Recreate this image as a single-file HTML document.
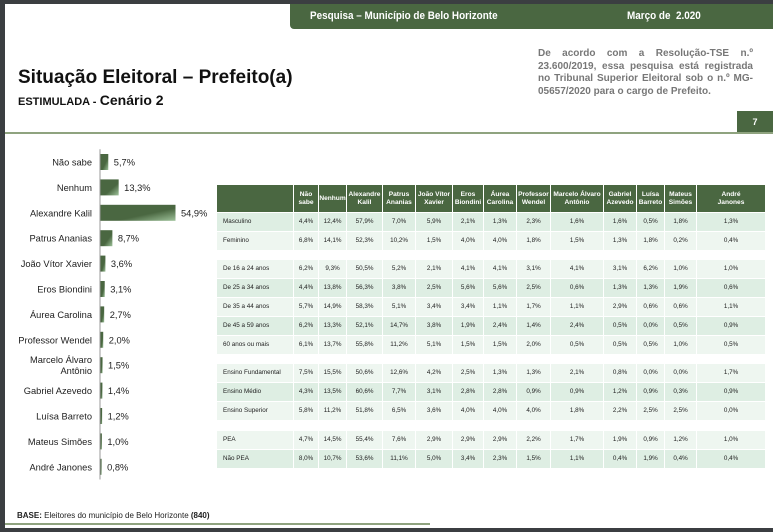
<!DOCTYPE html>
<html><head><meta charset="utf-8"><style>
body{margin:0;width:773px;height:532px;overflow:hidden;background:#3b3e41;font-family:"Liberation Sans",sans-serif;}
#page{position:absolute;left:5px;top:4px;width:768px;height:524px;background:#fff;}
.abs{position:absolute;}
#table{position:absolute;font-size:6.3px;color:#222;}
.cell{position:absolute;display:flex;align-items:center;justify-content:center;text-align:center;box-sizing:border-box;line-height:1.15;}
.hd{background:#4a6741;color:#fff;font-weight:bold;font-size:6.6px;}
</style></head><body>
<div id="page">
 <div class="abs" style="left:285px;top:0;width:483px;height:25px;background:#4a6741;border-bottom-left-radius:4px;"></div>
 <div class="abs" style="left:305px;top:6px;color:#fff;font-weight:bold;font-size:11px;transform:scaleX(0.9);transform-origin:left;">Pesquisa – Município de Belo Horizonte</div>
 <div class="abs" style="left:622px;top:6px;color:#fff;font-weight:bold;font-size:11px;transform:scaleX(0.9);transform-origin:left;">Março de &nbsp;2.020</div>
 <div class="abs" style="left:13px;top:63px;font-weight:bold;font-size:19px;color:#111;">Situação Eleitoral – Prefeito(a)</div>
 <div class="abs" style="left:13px;top:88px;font-weight:bold;font-size:12px;color:#111;"><span style="font-size:11px">ESTIMULADA -</span> <span style="font-size:14px">Cenário 2</span></div>
 <div class="abs" style="left:533px;top:44px;width:215px;font-weight:bold;font-size:10px;color:#777;text-align:justify;line-height:12.5px;">De acordo com a Resolução-TSE n.º 23.600/2019, essa pesquisa está registrada no Tribunal Superior Eleitoral sob o n.º MG-05657/2020 para o cargo de Prefeito.</div>
 <div class="abs" style="left:732px;top:107px;width:36px;height:22px;background:#4a6741;color:#fff;font-weight:bold;font-size:9px;line-height:22px;text-align:center;">7</div>
 <div class="abs" style="left:0;top:128px;width:768px;height:2px;background:#8fa37f;"></div>
 <svg id="bars" class="abs" style="left:0;top:0" width="220" height="500"></svg>
 <div id="table"></div>
 <div class="abs" style="left:12px;top:507px;font-size:8px;color:#222;"><b>BASE:</b> Eleitores do município de Belo Horizonte <b>(840)</b></div>
 <div class="abs" style="left:0;top:519px;width:425px;height:2px;background:#8fa37f;"></div>
</div>
<script>
const candidates=["Não sabe","Nenhum","Alexandre Kalil","Patrus Ananias","João Vítor Xavier","Eros Biondini","Áurea Carolina","Professor Wendel","Marcelo Álvaro Antônio","Gabriel Azevedo","Luísa Barreto","Mateus Simões","André Janones"];
const totals=[5.7,13.3,54.9,8.7,3.6,3.1,2.7,2.0,1.5,1.4,1.2,1.0,0.8];
const headers=["Não sabe","Nenhum","Alexandre Kalil","Patrus Ananias","João Vítor Xavier","Eros Biondini","Áurea Carolina","Professor Wendel","Marcelo Álvaro Antônio","Gabriel Azevedo","Luísa Barreto","Mateus Simões","André Janones"];
const rowLabels=["Masculino","Feminino",null,"De 16 a 24 anos","De 25 a 34 anos","De 35 a 44 anos","De 45 a 59 anos","60 anos ou mais",null,"Ensino Fundamental","Ensino Médio","Ensino Superior",null,"PEA","Não PEA"];
const rowValues=[
[4.4,12.4,57.9,7.0,5.9,2.1,1.3,2.3,1.6,1.6,0.5,1.8,1.3],
[6.8,14.1,52.3,10.2,1.5,4.0,4.0,1.8,1.5,1.3,1.8,0.2,0.4],
null,
[6.2,9.3,50.5,5.2,2.1,4.1,4.1,3.1,4.1,3.1,6.2,1.0,1.0],
[4.4,13.8,56.3,3.8,2.5,5.6,5.6,2.5,0.6,1.3,1.3,1.9,0.6],
[5.7,14.9,58.3,5.1,3.4,3.4,1.1,1.7,1.1,2.9,0.6,0.6,1.1],
[6.2,13.3,52.1,14.7,3.8,1.9,2.4,1.4,2.4,0.5,0.0,0.5,0.9],
[6.1,13.7,55.8,11.2,5.1,1.5,1.5,2.0,0.5,0.5,0.5,1.0,0.5],
null,
[7.5,15.5,50.6,12.6,4.2,2.5,1.3,1.3,2.1,0.8,0.0,0.0,1.7],
[4.3,13.5,60.6,7.7,3.1,2.8,2.8,0.9,0.9,1.2,0.9,0.3,0.9],
[5.8,11.2,51.8,6.5,3.6,4.0,4.0,4.0,1.8,2.2,2.5,2.5,0.0],
null,
[4.7,14.5,55.4,7.6,2.9,2.9,2.9,2.2,1.7,1.9,0.9,1.2,1.0],
[8.0,10.7,53.6,11.1,5.0,3.4,2.3,1.5,1.1,0.4,1.9,0.4,0.4]];
const fmt=v=>v.toFixed(1).replace('.',',')+'%';
const svg=document.getElementById('bars');const NS='http://www.w3.org/2000/svg';
const x0=95,scale=75/54.9,y0=158,step=25.4;
const xs=v=>x0+v*scale, ys=i=>y0+i*step;
svg.innerHTML='<defs><linearGradient id="g" x1="0" y1="0" x2="1" y2="1"><stop offset="0.6" stop-color="#4a6741"/><stop offset="1" stop-color="#9ec29a"/></linearGradient></defs>';
const ax=document.createElementNS(NS,'line');
ax.setAttribute('x1',x0);ax.setAttribute('x2',x0);ax.setAttribute('y1',ys(-0.5));ax.setAttribute('y2',ys(12.5));ax.setAttribute('stroke','#999');


svg.appendChild(ax);
candidates.forEach((c,i)=>{
 const r=document.createElementNS(NS,'rect');
 r.setAttribute('x',x0+0.5);r.setAttribute('y',ys(i)-8);r.setAttribute('width',Math.max(1,xs(totals[i])-x0));r.setAttribute('height',16);r.setAttribute('fill','url(#g)');
 
 
 svg.appendChild(r);
 const lines=c==="Marcelo Álvaro Antônio"?["Marcelo Álvaro","Antônio"]:[c];
 lines.forEach((l,k)=>{const t=document.createElementNS(NS,'text');
  t.setAttribute('x',x0-8);t.setAttribute('y',ys(i)+3.5+(lines.length>1?(k*11-5.5):0));t.setAttribute('text-anchor','end');t.setAttribute('font-size','9.3');t.setAttribute('fill','#222');t.textContent=l;
  
  
  svg.appendChild(t);});
 const v=document.createElementNS(NS,'text');
 v.setAttribute('x',xs(totals[i])+6);v.setAttribute('y',ys(i)+3.5);v.setAttribute('font-size','9.3');v.setAttribute('fill','#222');v.textContent=fmt(totals[i]);
 
 
 svg.appendChild(v);
});
const tb=document.getElementById('table');
const colX=[212,289,314,342,378,411,448,479,512,546,599,632,660,692,761];
const rowY=[209,228,null,256,275,294,313,332,null,360,379,398,null,427,446];
function cell(x,y,w,h,txt,cls,bg,name){const d=document.createElement('div');d.className='cell '+cls;
 d.style.left=x+'px';d.style.top=y+'px';d.style.width=w+'px';d.style.height=h+'px';if(bg)d.style.background=bg;d.textContent=txt;
 
 
 tb.appendChild(d);return d;}
cell(colX[0],181,colX[1]-colX[0]-1,27,'','hd',null,'header-blank');
headers.forEach((h,j)=>{const d=cell(colX[j+1],181,colX[j+2]-colX[j+1]-1,27,h,'hd',null,'column-header');if(j===12)d.style.padding='0 20px';});
rowLabels.forEach((lab,i)=>{if(!lab)return;const bg=(i%2==0)?'#deeee3':'#eef6f0';
 const y=rowY[i];
 const l=cell(colX[0],y,colX[1]-colX[0]-1,18,lab,'',bg,'row-label');l.style.justifyContent='flex-start';l.style.paddingLeft='6px';
 rowValues[i].forEach((v,j)=>cell(colX[j+1],y,colX[j+2]-colX[j+1]-1,18,fmt(v),'',bg,'table-value'));
});
</script>
</body></html>
